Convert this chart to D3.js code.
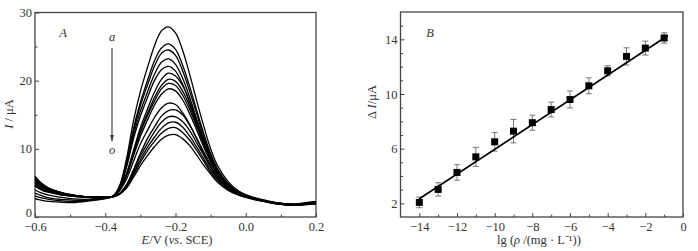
<!DOCTYPE html>
<html>
<head>
<meta charset="utf-8">
<script src="https://cdn.jsdelivr.net/npm/d3@7"></script>
<style>
body{margin:0;background:#fff}
svg text{font-family:"Liberation Serif","Times New Roman",serif;fill:#333}
</style>
</head>
<body>
<svg id="chart" width="698" height="251"></svg>
<script>
// panel A: potential grid (V vs SCE) and one current trace (uA) per curve a..o
var potentials = [-0.60,-0.59,-0.58,-0.56,-0.53,-0.50,-0.46,-0.42,-0.38,
  -0.36,-0.34,-0.32,-0.30,-0.28,-0.26,-0.24,-0.22,-0.20,-0.18,-0.16,-0.14,-0.12,-0.10,-0.08,-0.05,-0.02,0.02,0.06,
  0.10,0.14,0.17,0.20];
var curveNames = ["a","b","c","d","e","f","g","h","i","j","k","l","m","n","o"];
var curveA = [6.0,5.4,4.9,4.2,3.7,3.3,3.0,2.9,3.0, 4.5,8.4,14.0,18.4,21.9,25.1,27.3,27.9,27.0,24.5,21.0,17.1,13.4,10.0,7.5,5.2,3.8,2.9,2.4, 2.0,1.9,2.1,2.3];
var curveB = [5.8,5.2,4.8,4.2,3.6,3.3,3.0,2.9,3.0, 4.3,7.9,12.9,16.8,20.0,22.9,24.8,25.4,24.6,22.3,19.2,15.7,12.3,9.3,7.0,4.9,3.7,2.8,2.3, 2.0,1.9,2.0,2.2];
var curveC = [5.6,5.0,4.6,4.1,3.6,3.2,3.0,2.9,3.0, 4.2,7.7,12.5,16.3,19.3,22.1,24.0,24.5,23.7,21.5,18.5,15.2,11.9,9.0,6.9,4.8,3.7,2.8,2.3, 2.0,1.85,2.0,2.2];
var curveD = [5.5,5.0,4.6,4.0,3.6,3.2,3.0,2.9,3.0, 4.1,7.4,11.9,15.5,18.3,20.9,22.7,23.2,22.4,20.4,17.6,14.4,11.4,8.6,6.6,4.7,3.6,2.8,2.3, 1.9,1.85,2.0,2.1];
var curveE = [5.4,4.9,4.5,4.0,3.5,3.2,3.0,2.9,3.0, 4.0,7.2,11.4,14.8,17.5,20.0,21.6,22.1,21.4,19.5,16.8,13.8,10.9,8.3,6.4,4.6,3.5,2.8,2.3, 1.9,1.8,2.0,2.1];
var curveF = [5.2,4.7,4.4,3.9,3.5,3.2,3.0,2.9,3.0, 4.0,6.3,9.7,13.1,15.8,18.3,20.2,21.1,20.7,19.3,17.0,14.2,11.4,8.8,6.8,4.8,3.6,2.8,2.3, 2.0,1.85,2.0,2.2];
var curveG = [5.1,4.6,4.3,3.8,3.4,3.2,3.0,2.9,3.0, 4.0,6.2,9.4,12.6,15.2,17.5,19.3,20.2,19.9,18.5,16.3,13.6,11.0,8.5,6.6,4.7,3.6,2.8,2.3, 2.0,1.8,1.95,2.1];
var curveH = [5.0,4.6,4.2,3.8,3.4,3.2,2.95,2.9,3.0, 3.9,6.0,9.2,12.3,14.8,17.0,18.8,19.6,19.3,17.9,15.8,13.3,10.7,8.3,6.5,4.6,3.5,2.8,2.3, 1.9,1.8,1.95,2.1];
var curveI = [4.9,4.5,4.2,3.7,3.4,3.1,2.95,2.9,3.0, 3.9,5.9,8.9,11.8,14.2,16.4,18.0,18.8,18.5,17.2,15.2,12.8,10.3,8.1,6.3,4.5,3.5,2.8,2.3, 1.9,1.8,1.9,2.0];
var curveJ = [4.7,4.3,4.0,3.7,3.3,3.1,2.9,2.9,3.0, 3.8,5.5,8.1,10.7,12.7,14.6,16.0,16.7,16.5,15.3,13.6,11.5,9.3,7.4,5.8,4.2,3.4,2.7,2.3, 1.9,1.8,1.9,2.0];
var curveK = [4.5,4.2,3.9,3.6,3.3,3.1,2.9,2.9,3.0, 3.4,4.7,6.9,9.3,11.5,13.2,14.8,15.6,15.7,15.0,13.5,11.6,9.6,7.7,6.1,4.4,3.4,2.7,2.3, 1.9,1.8,1.9,2.0];
var curveL = [4.0,3.7,3.5,3.2,2.9,2.7,2.6,2.75,3.0, 3.4,4.6,6.6,8.9,10.8,12.5,13.9,14.7,14.7,14.0,12.7,10.9,9.1,7.3,5.8,4.2,3.4,2.7,2.3, 1.9,1.75,1.9,2.0];
var curveM = [3.5,3.3,3.1,2.8,2.6,2.5,2.45,2.65,2.95, 3.4,4.4,6.3,8.4,10.2,11.7,13.0,13.8,13.9,13.2,11.9,10.3,8.6,6.9,5.6,4.1,3.3,2.7,2.2, 1.9,1.75,1.85,2.0];
var curveN = [3.1,2.9,2.8,2.6,2.4,2.3,2.35,2.6,2.9, 3.3,4.3,6.1,8.0,9.7,11.1,12.3,13.0,13.1,12.4,11.3,9.8,8.2,6.6,5.4,4.0,3.2,2.7,2.2, 1.85,1.7,1.85,1.95];
var curveO = [2.7,2.55,2.45,2.3,2.2,2.1,2.25,2.5,2.9, 3.3,4.2,5.8,7.5,9.0,10.3,11.4,12.0,12.1,11.5,10.5,9.1,7.6,6.3,5.1,3.9,3.2,2.6,2.2, 1.85,1.7,1.8,1.9];
var curves = [curveA,curveB,curveC,curveD,curveE,curveF,curveG,curveH,curveI,curveJ,curveK,curveL,curveM,curveN,curveO];

// panel B: calibration points
var lgRho = [-14,-13,-12,-11,-10,-9,-8,-7,-6,-5,-4,-3,-2,-1];
var deltaI = [2.07,3.02,4.26,5.4,6.5,7.28,7.9,8.86,9.6,10.6,11.7,12.75,13.36,14.1];
var deltaErr = [0.39,0.49,0.57,0.7,0.68,0.86,0.55,0.54,0.62,0.58,0.37,0.63,0.51,0.38];
var fitSlope = 0.905, fitIntercept = 15.0;
var fitFrom = -14, fitTo = -0.8;

// tick values
var xTicksA = [-0.6,-0.4,-0.2,0,0.2], xMinorA = [-0.5,-0.3,-0.1,0.1];
var yTicksA = [0,10,20,30], yMinorA = [5,15,25];
var xTicksB = [-14,-12,-10,-8,-6,-4,-2,0], xMinorB = [-13,-11,-9,-7,-5,-3,-1];
var yTicksB = [2,6,10,14], yMinorB = [3,4,5,7,8,9,11,12,13,15];

var svg = d3.select("#chart");
var fontSize = 12.5;

function axes(x, y, xt, xm, yt, ym, fx, fy){
  var x0 = x.range()[0], y0 = y.range()[0];
  var gx = svg.append("g").attr("transform","translate(0,"+y0+")")
    .call(d3.axisBottom(x).tickValues(xt).tickSizeInner(-4).tickSizeOuter(0).tickPadding(5).tickFormat(fx));
  svg.append("g").attr("transform","translate(0,"+y0+")")
    .call(d3.axisBottom(x).tickValues(xm).tickSizeInner(-2.5).tickSizeOuter(0).tickFormat(""));
  var gy = svg.append("g").attr("transform","translate("+x0+",0)")
    .call(d3.axisLeft(y).tickValues(yt).tickSizeInner(-4).tickSizeOuter(0).tickPadding(3).tickFormat(fy));
  svg.append("g").attr("transform","translate("+x0+",0)")
    .call(d3.axisLeft(y).tickValues(ym).tickSizeInner(-2.5).tickSizeOuter(0).tickFormat(""));
  svg.selectAll(".domain").remove();
  [gx,gy].forEach(function(g){
    g.attr("font-family",null).attr("font-size",fontSize).attr("color","#333");
  });
  svg.selectAll(".tick line").attr("stroke","#444");
  svg.append("rect")
    .attr("x",x.range()[0]).attr("y",y.range()[1])
    .attr("width",x.range()[1]-x.range()[0]).attr("height",y.range()[0]-y.range()[1])
    .attr("fill","none").attr("stroke","#444").attr("stroke-width",1.3);
  return gy;
}

// ---- panel A
var xA = d3.scaleLinear().domain([-0.6,0.2]).range([35,316]);
var yA = d3.scaleLinear().domain([0,30]).range([217,12.5]);
var gyA = axes(xA, yA, xTicksA, xMinorA, yTicksA, yMinorA, d3.format(".1f"), d3.format("d"));
// the "0" sits a little above its tick so it clears the x labels
gyA.selectAll(".tick text").filter(function(d){ return d === 0; }).attr("dy","-0.05em");

var line = d3.line()
  .x(function(d,i){ return xA(potentials[i]); })
  .y(function(d){ return yA(d); })
  .curve(d3.curveCatmullRom.alpha(0.5));

svg.append("g").selectAll("path")
  .data(curves)
  .enter()
  .append("path")
  .attr("d", line)
  .attr("fill","none")
  .attr("stroke","#000")
  .attr("stroke-width",1.3);

svg.append("defs").append("marker")
  .attr("id","arrow").attr("viewBox","0 0 10 10")
  .attr("refX",9).attr("refY",5)
  .attr("markerWidth",6).attr("markerHeight",8)
  .attr("orient","auto")
  .append("path").attr("d","M0,2L10,5L0,8Z").attr("fill","#444");

svg.append("line")
  .attr("x1",112).attr("y1",48).attr("x2",112).attr("y2",141)
  .attr("stroke","#444").attr("stroke-width",1.2)
  .attr("marker-end","url(#arrow)");

svg.append("text").attr("x",112).attr("y",41).attr("text-anchor","middle")
  .attr("font-size",fontSize).attr("font-style","italic").text(curveNames[0]);
svg.append("text").attr("x",112).attr("y",154).attr("text-anchor","middle")
  .attr("font-size",fontSize).attr("font-style","italic").text(curveNames[curveNames.length-1]);
svg.append("text").attr("x",63).attr("y",37).attr("text-anchor","middle")
  .attr("font-size",fontSize).attr("font-style","italic").text("A");

var tA = svg.append("text").attr("x",177).attr("y",244).attr("text-anchor","middle").attr("font-size",fontSize);
tA.append("tspan").attr("font-style","italic").text("E");
tA.append("tspan").text("/V (");
tA.append("tspan").attr("font-style","italic").text("vs");
tA.append("tspan").text(". SCE)");

var lA = svg.append("text").attr("transform","translate(13,114) rotate(-90)")
  .attr("text-anchor","middle").attr("font-size",fontSize);
lA.append("tspan").attr("font-style","italic").text("I");
lA.append("tspan").text(" / μA");

// ---- panel B
var xB = d3.scaleLinear().domain([-15,0]).range([400.5,683]);
var yB = d3.scaleLinear().domain([1,16]).range([217,12]);
axes(xB, yB, xTicksB, xMinorB, yTicksB, yMinorB, d3.format("d"), d3.format("d"));

var pts = lgRho.map(function(v,i){ return {x:v, y:deltaI[i], e:deltaErr[i]}; });

var err = svg.append("g").attr("stroke","#777").attr("stroke-width",1);
err.selectAll("line.bar").data(pts).enter().append("line").attr("class","bar")
  .attr("x1",function(d){ return xB(d.x); }).attr("x2",function(d){ return xB(d.x); })
  .attr("y1",function(d){ return yB(d.y-d.e); }).attr("y2",function(d){ return yB(d.y+d.e); });
[-1,1].forEach(function(s){
  err.selectAll("line.cap"+s).data(pts).enter().append("line")
    .attr("x1",function(d){ return xB(d.x)-3; }).attr("x2",function(d){ return xB(d.x)+3; })
    .attr("y1",function(d){ return yB(d.y+s*d.e); }).attr("y2",function(d){ return yB(d.y+s*d.e); });
});

svg.append("line")
  .attr("x1",xB(fitFrom)).attr("y1",yB(fitSlope*fitFrom+fitIntercept))
  .attr("x2",xB(fitTo)).attr("y2",yB(fitSlope*fitTo+fitIntercept))
  .attr("stroke","#000").attr("stroke-width",1.8);

svg.append("g").selectAll("rect").data(pts).enter().append("rect")
  .attr("x",function(d){ return xB(d.x)-3.5; })
  .attr("y",function(d){ return yB(d.y)-3.5; })
  .attr("width",7).attr("height",7).attr("fill","#000");

svg.append("text").attr("x",430).attr("y",37).attr("text-anchor","middle")
  .attr("font-size",fontSize).attr("font-style","italic").text("B");

var tB = svg.append("text").attr("x",539).attr("y",244).attr("text-anchor","middle").attr("font-size",fontSize);
tB.append("tspan").text("lg (");
tB.append("tspan").attr("font-style","italic").text("ρ");
tB.append("tspan").text(" /(mg · L⁻¹))");

var lB = svg.append("text").attr("transform","translate(376,102) rotate(-90)")
  .attr("text-anchor","middle").attr("font-size",fontSize);
lB.append("tspan").text("Δ ");
lB.append("tspan").attr("font-style","italic").text("I");
lB.append("tspan").text("/μA");
</script>
</body>
</html>
